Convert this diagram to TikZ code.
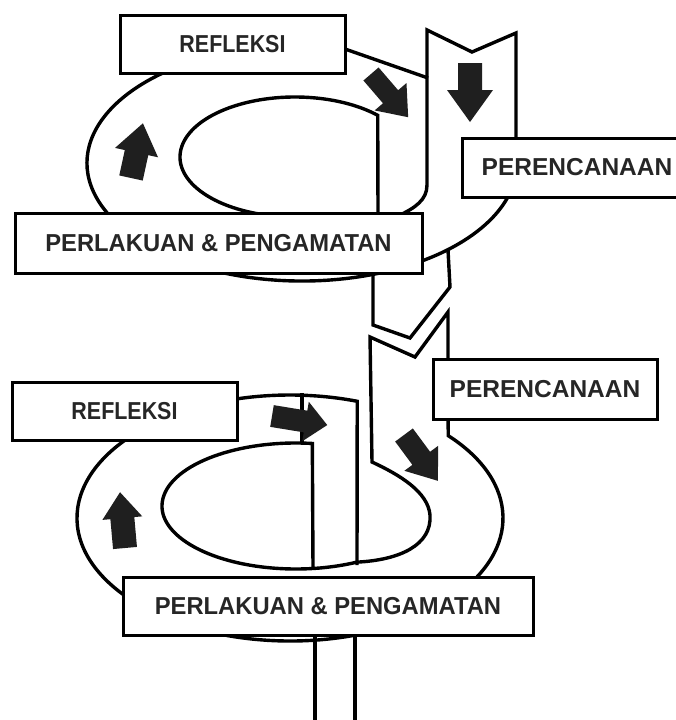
\documentclass[tikz,border=0pt]{standalone}
\usepackage{fontspec}
\setmainfont{Liberation Sans}
\usetikzlibrary{calc}
% #1 tail point, #2 rotation, #3 length, #4 head length, #5 head half width, #6 shaft half width
\newcommand\blockarr[6]{\fill[arrowfill, shift={#1}, rotate=#2] (0,-#6) -- ({#3-#4},-#6) -- ({#3-#4},-#5) -- (#3,0) -- ({#3-#4},#5) -- ({#3-#4},#6) -- (0,#6) -- cycle;}
\begin{document}
\begin{tikzpicture}[x=1pt,y=-1pt,
  ln/.style={line width=3.4pt, line join=miter},
  box/.style={draw, line width=3pt, fill=white, inner sep=0pt, text=black!85, font=\fontsize{24.5}{28}\selectfont\bfseries},
  arrowfill/.style={fill=black!88}]
\useasboundingbox (0,0) rectangle (676,720);
\fill[white] (0,0) rectangle (676,720);

% ---------- upper cycle ----------
\draw[ln] ($(302,163)+(250:215 and 118)$) arc[start angle=250, end angle=5, x radius=215, y radius=118];
\draw[ln] (345,49) -- (428,78);
\draw[ln] ($(295,157)+(100:115 and 60)$) arc[start angle=100, end angle=316, x radius=115, y radius=60] -- (378,215);
\draw[ln] (398,216) .. controls (415,208) and (427,200) .. (427,185) -- (427,30) -- (472,52) -- (516,33) -- (516,140);
\draw[ln] (373,268) -- (373,325) -- (410,338) -- (450,287) -- (448,250);

% ---------- lower cycle ----------
\draw[ln] (313,568.5) -- ($(296,506)+(-83:134 and 63)$) arc[start angle=-83, end angle=-297, x radius=134, y radius=63]
  .. controls (400,560) and (432,545) .. (430,515) .. controls (428,492) and (400,475) .. (372,462)
  -- (370,337) -- (415,357) -- (448,312) -- (448,362);
\draw[ln] ($(290,518)+(235:213 and 123)$) arc[start angle=235, end angle=60, x radius=213, y radius=123];
\draw[ln] (448,416) -- ($(290,518)+(-42:213 and 123)$) arc[start angle=-42, end angle=40, x radius=213, y radius=123];
\draw[ln] ($(290,518)+(-110:213 and 123)$) arc[start angle=-110, end angle=-71.6, x radius=213, y radius=123] -- (357,565);
\draw[ln] (302,393) -- (302,443);
\draw[ln] (315,630) -- (315,725);
\draw[ln] (355,630) -- (355,725);

% ---------- block arrows ----------
\blockarr{(371,74)}{-49.3}{57}{27}{21}{10}
\blockarr{(470,63)}{-90}{59}{32}{23}{12}
\blockarr{(131,178)}{77.7}{56}{30}{22}{12}
\blockarr{(125,548)}{95.1}{56}{26}{20}{12}
\blockarr{(272,416)}{-9.3}{56}{22}{20}{11}
\blockarr{(404,435)}{-53.5}{57}{28}{21}{11}

% ---------- labels ----------
\node[box, minimum width=225pt, minimum height=58pt] (ref1) at (232.5,44) {\scalebox{0.875}[1]{REFLEKSI}};
\node[box, minimum width=230pt, minimum height=59pt] (per1) at (577,167.5) {PERENCANAAN};
\node[box, minimum width=407pt, minimum height=60pt] (pl1) at (218.5,243) {\scalebox{0.97}[1]{PERLAKUAN \& PENGAMATAN}};
\node[box, minimum width=225pt, minimum height=58pt] (ref2) at (124.5,411) {\scalebox{0.875}[1]{REFLEKSI}};
\node[box, minimum width=224pt, minimum height=60pt] (per2) at (545,389) {PERENCANAAN};
\node[box, minimum width=410pt, minimum height=58pt] (pl2) at (328,606) {\scalebox{0.97}[1]{PERLAKUAN \& PENGAMATAN}};
\end{tikzpicture}
\end{document}
